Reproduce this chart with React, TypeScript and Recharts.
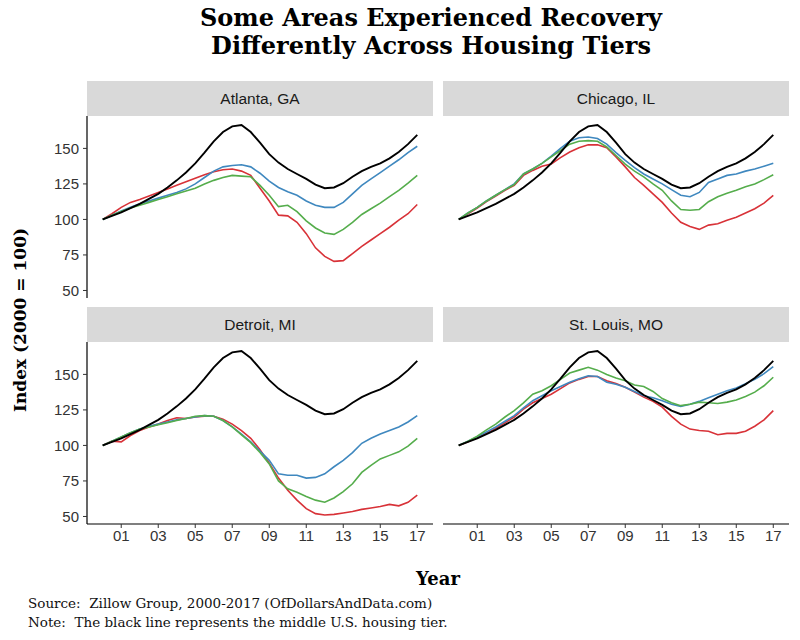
import React from "react";
import { LineChart, Line, XAxis, YAxis } from "recharts";

// half-year steps, 2000 through 2017
const years = [
  2000, 2000.5, 2001, 2001.5, 2002, 2002.5, 2003, 2003.5, 2004, 2004.5, 2005, 2005.5,
  2006, 2006.5, 2007, 2007.5, 2008, 2008.5, 2009, 2009.5, 2010, 2010.5, 2011, 2011.5,
  2012, 2012.5, 2013, 2013.5, 2014, 2014.5, 2015, 2015.5, 2016, 2016.5, 2017,
];

// middle U.S. tier (black line, same in every panel)
const usMiddle = [
  100, 102.5, 105, 108, 111, 114.5, 118, 122.5, 127.5, 133, 139.5, 147,
  155, 161.5, 165.5, 166.5, 161.5, 154, 146, 140, 135.5, 132, 128.5, 124.5,
  122, 122.5, 125.5, 130, 134, 137, 139.5, 143, 147.5, 153, 159.5,
];

const atlantaBlue = [
  100, 103, 106, 108.5, 111, 113, 115, 117, 119, 121.5, 125, 129.5,
  134, 137, 138, 138.5, 137, 132.5, 127, 122.5, 119.5, 117, 113, 110,
  108.5, 108.5, 112, 118, 124, 128.5, 133, 137.5, 142, 147, 151.5,
];
const atlantaGreen = [
  100, 103, 105.5, 108, 110, 112, 114, 116, 118, 120, 122, 125,
  127.5, 129.5, 131, 130.5, 130, 124, 117, 109, 110, 105.5, 99, 94,
  90.5, 89.5, 93, 98, 103.5, 107.5, 111.5, 116, 120.5, 125.5, 131,
];
const atlantaRed = [
  100, 104, 108.5, 112, 114, 116.5, 119, 121.5, 124, 126.5, 129, 131.5,
  133.5, 135, 135.5, 134, 131, 122, 113, 103, 102.5, 98, 90, 80,
  74, 70.5, 71, 76, 81, 85.5, 90, 94.5, 99.5, 104, 110.5,
];

const chicagoBlue = [
  100, 104.5, 108.5, 113, 117, 121, 125, 132, 135.5, 139.5, 144.5, 150,
  155, 157.5, 158, 157, 153, 147, 141.5, 136.5, 132, 128.5, 125, 121,
  117, 116, 119, 126, 128.5, 131, 132, 134, 135.5, 137.5, 139.5,
];
const chicagoGreen = [
  100, 104.5, 108.5, 113, 117, 121, 124.5, 132, 135.5, 139.5, 144, 148.5,
  153, 155, 155.5, 155, 151, 145, 139, 134, 130, 125, 120.5, 113,
  107, 106.5, 107, 112.5, 116, 118.5, 120.5, 123, 125, 128, 131.5,
];
const chicagoRed = [
  100, 104, 108, 112.5, 116.5, 120.5, 124, 131, 134.5, 137.5, 139, 143.5,
  147.5, 150.5, 152.5, 152.5, 150.5, 144, 137, 129.5, 124, 118, 112, 104.5,
  98, 95, 93, 96, 97, 99.5, 101.5, 104.5, 107.5, 111.5, 117,
];

const detroitBlue = [
  100, 103, 106, 109, 111.5, 113.5, 115, 116.5, 118, 119, 120, 121,
  120.5, 117.5, 113, 108, 102.5, 96, 89.5, 80, 79, 79, 77, 77.5,
  80, 85, 89.5, 95, 101.5, 105, 108, 110.5, 113, 116.5, 121,
];
const detroitGreen = [
  100, 103, 106, 109, 111.5, 113, 114.5, 116, 117.5, 119, 120.5, 121,
  120.5, 117.5, 113, 107.5, 102, 95, 87, 75, 69.5, 67, 64, 61.5,
  60, 63, 67.5, 73, 81, 86, 90.5, 93, 95.5, 99.5, 105,
];
const detroitRed = [
  100, 103, 102.5, 107, 110.5, 113, 115, 117.5, 119.5, 119, 120, 120.5,
  120.5, 118.5, 115, 110.5, 105, 97, 87.5, 77, 68.5, 61.5, 55.5, 52,
  51, 51.5, 52.5, 53.5, 55, 56, 57, 58.5, 57.5, 60, 65,
];

const stLouisBlue = [
  100, 103, 106, 109.5, 113, 117, 121, 126.5, 131.5, 135, 138.5, 141.5,
  144.5, 147, 149, 148.5, 144.5, 143, 141, 138, 135, 133.5, 131.5, 129,
  127.5, 129, 131, 133.5, 136, 138.5, 140.5, 143.5, 146.5, 150.5, 155.5,
];
const stLouisGreen = [
  100, 103, 106.5, 111, 115, 120, 124.5, 130, 136, 138.5, 142, 146.5,
  151, 153, 155, 153, 150, 147.5, 145.5, 142.5, 141.5, 138, 133, 130,
  128, 129, 130.5, 130, 129.5, 130.5, 132, 134.5, 137.5, 142, 148,
];
const stLouisRed = [
  100, 102.5, 105.5, 108.5, 112, 116, 120, 125.5, 130, 133, 136, 140,
  144, 146.5, 148.5, 148.5, 145.5, 143.5, 141, 137.5, 134, 131, 127, 120.5,
  115, 111.5, 110.5, 110, 107.5, 108.5, 108.5, 110, 113.5, 118, 124.5,
];

const xTicks = [2001, 2003, 2005, 2007, 2009, 2011, 2013, 2015, 2017];
const yTicks = [50, 75, 100, 125, 150];

const BLUE = "#3f88bf";
const GREEN = "#55ad4c";
const RED = "#d83238";

const sans = "'Liberation Sans', Arial, sans-serif";
const serif = "'DejaVu Serif', serif";

function rows(blue: number[], green: number[], red: number[]) {
  return years.map((year, i) => ({ year, us: usMiddle[i], blue: blue[i], green: green[i], red: red[i] }));
}

const tickStyle = { fill: "#333", fontSize: 15, fontFamily: sans };

function Panel({ title, data, showX, showY, left, top }: any) {
  const width = showY ? 433 : 346;
  const height = showX ? 212 : 182;
  const stripLeft = showY ? 87 : 0;
  return (
    <div style={{ position: "absolute", left, top }}>
      <div
        style={{
          position: "absolute", left: stripLeft, top: -35, width: 346, height: 35,
          background: "#d9d9d9", display: "flex", alignItems: "center", justifyContent: "center",
          fontFamily: sans, fontSize: 15.5, color: "#1a1a1a",
        }}
      >
        {title}
      </div>
      <LineChart width={width} height={height} data={data} margin={{ top: 0, right: 0, bottom: 0, left: 0 }}>
        <XAxis
          dataKey="year" type="number" domain={[1999.15, 2017.85]} ticks={xTicks} interval={0}
          tickFormatter={(v: number) => String(v % 100).padStart(2, "0")}
          hide={!showX} height={30} tick={tickStyle} tickSize={4}
          axisLine={{ stroke: "#000", strokeWidth: 1.2 }} tickLine={{ stroke: "#333" }}
          allowDataOverflow
        />
        <YAxis
          type="number" domain={[44.7, 172.8]} ticks={yTicks} interval={0} hide={!showY} width={87}
          tick={tickStyle} tickSize={4} tickMargin={4}
          axisLine={{ stroke: "#000", strokeWidth: 1.2 }} tickLine={{ stroke: "#333" }}
          allowDataOverflow
        />
        <Line dataKey="red" stroke={RED} strokeWidth={1.6} dot={false} isAnimationActive={false} />
        <Line dataKey="blue" stroke={BLUE} strokeWidth={1.6} dot={false} isAnimationActive={false} />
        <Line dataKey="green" stroke={GREEN} strokeWidth={1.6} dot={false} isAnimationActive={false} />
        <Line dataKey="us" stroke="#000" strokeWidth={1.9} dot={false} isAnimationActive={false} />
      </LineChart>
    </div>
  );
}

export default function App() {
  return (
    <div style={{ position: "absolute", left: 0, top: 0, width: 800, height: 640, background: "#fff" }}>
      <div
        style={{
          position: "absolute", left: 0, top: 4, width: 862, textAlign: "center",
          fontFamily: serif, fontWeight: "bold", fontSize: 24, lineHeight: "28px", color: "#000",
        }}
      >
        Some Areas Experienced Recovery
        <br />
        Differently Across Housing Tiers
      </div>

      <Panel title="Atlanta, GA" data={rows(atlantaBlue, atlantaGreen, atlantaRed)} showY left={0} top={116} />
      <Panel title="Chicago, IL" data={rows(chicagoBlue, chicagoGreen, chicagoRed)} left={443} top={116} />
      <Panel title="Detroit, MI" data={rows(detroitBlue, detroitGreen, detroitRed)} showX showY left={0} top={342} />
      <Panel title="St. Louis, MO" data={rows(stLouisBlue, stLouisGreen, stLouisRed)} showX left={443} top={342} />

      <div
        style={{
          position: "absolute", left: 20, top: 320, transform: "translate(-50%, -50%) rotate(-90deg)",
          whiteSpace: "nowrap", fontFamily: serif, fontWeight: "bold", fontSize: 17, color: "#000",
        }}
      >
        Index (2000 = 100)
      </div>
      <div
        style={{
          position: "absolute", left: 438, top: 578, transform: "translate(-50%, -50%)",
          fontFamily: serif, fontWeight: "bold", fontSize: 18, color: "#000",
        }}
      >
        Year
      </div>
      <div
        style={{
          position: "absolute", left: 28, top: 594, fontFamily: serif, fontSize: 13.5,
          lineHeight: "19px", color: "#111",
        }}
      >
        Source:&nbsp; Zillow Group, 2000-2017 (OfDollarsAndData.com)
        <br />
        Note:&nbsp; The black line represents the middle U.S. housing tier.
      </div>
    </div>
  );
}
